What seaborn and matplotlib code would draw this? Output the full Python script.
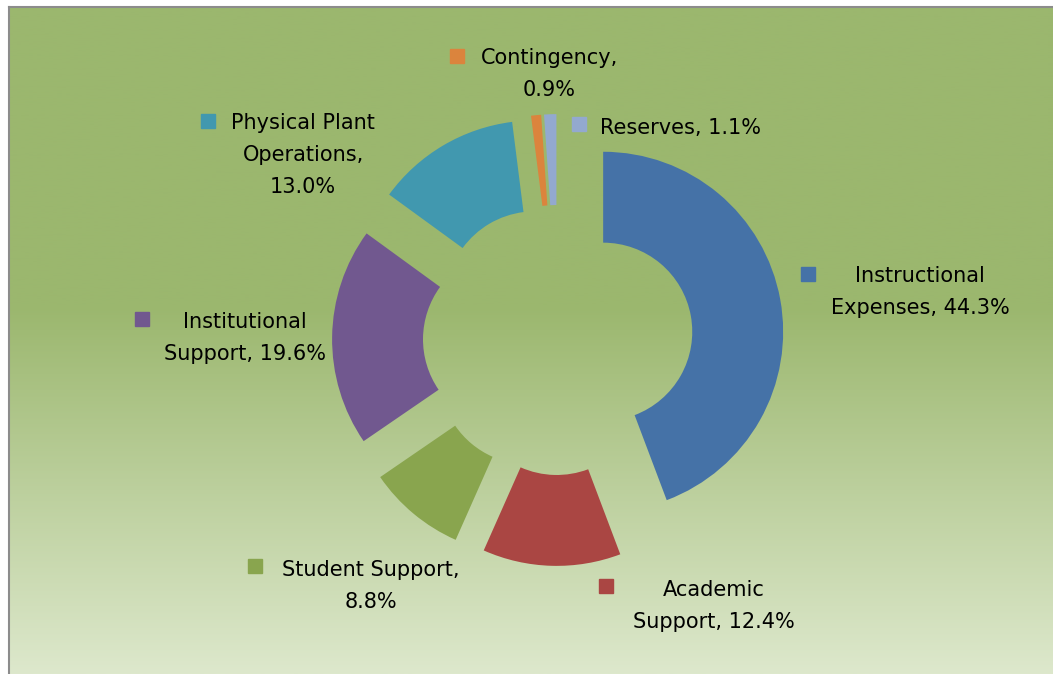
import numpy as np
import matplotlib.pyplot as plt
import seaborn as sns
from matplotlib.colors import LinearSegmentedColormap
from matplotlib.patches import Rectangle

# budget shares, clockwise from 12 o'clock
categories = ["Instructional Expenses", "Academic Support", "Student Support",
              "Institutional Support", "Physical Plant Operations",
              "Contingency", "Reserves"]
shares = [44.3, 12.4, 8.8, 19.6, 13.0, 0.9, 1.1]
label_texts = ["Instructional\nExpenses, 44.3%", "Academic\nSupport, 12.4%",
               "Student Support,\n8.8%", "Institutional\nSupport, 19.6%",
               "Physical Plant\nOperations,\n13.0%", "Contingency,\n0.9%",
               "Reserves, 1.1%"]
colors = ["#4572A7", "#AA4643", "#89A54E", "#71588F", "#4198AF", "#DB843D", "#93A9CF"]

sns.set_style("white")
plt.rcParams['font.family'] = ['DejaVu Sans']

W, H = 1053, 674
fig = plt.figure(figsize=[W / 100, H / 100], dpi=100)
fig.patch.set_facecolor("white")

# chart area with green gradient
bg = fig.add_axes([9 / W, 0, 1 - 9 / W, 1 - 7 / H])
cmap = LinearSegmentedColormap.from_list(
    "bg", [(0, "#9BB76E"), (0.45, "#9BB76E"), (1, "#DDE8CC")])
grad = np.linspace(0, 1, 256).reshape(-1, 1)
bg.imshow(grad, aspect="auto", cmap=cmap, extent=[0, 1, 0, 1], origin="upper")
bg.set_xlim(0, 1)
bg.set_ylim(0, 1)
bg.set_xticks([])
bg.set_yticks([])
for s in ["right", "bottom"]:
    bg.spines[s].set_visible(False)
for s in ["left", "top"]:
    bg.spines[s].set_color("#8C8C8C")
    bg.spines[s].set_linewidth(1.5)

# donut
ax = fig.add_axes([270 / W, 46 / H, 576 / W, 576 / H])
ax.patch.set_alpha(0)
ax.pie(shares, colors=colors, startangle=90, counterclock=False,
       explode=[0.255] * len(shares), radius=1,
       wedgeprops=dict(width=0.505, linewidth=0))
ax.set_xlim(-1.6, 1.6)
ax.set_ylim(-1.6, 1.6)
ax.axis("off")

# data labels (centre x, first-line y in pixels) with their colour keys
label_pos = [(920, 276), (714, 590), (371, 570), (245, 322),
             (303, 123), (549, 58), (681, 128)]
key_pos = [(808, 274), (606, 586), (255, 566), (142, 319),
           (208, 121), (457, 56), (579, 124)]
for txt, (x, y), (kx, ky), c in zip(label_texts, label_pos, key_pos, colors):
    for i, line in enumerate(txt.split("\n")):
        fig.text(x / W, 1 - (y + 32 * i) / H, line, ha="center", va="center",
                 fontsize=15, color="black")
    fig.patches.append(Rectangle(((kx - 7) / W, 1 - (ky + 7) / H), 14 / W, 14 / H,
                                 transform=fig.transFigure, color=c, zorder=5))

plt.savefig("out.png", dpi=100)
